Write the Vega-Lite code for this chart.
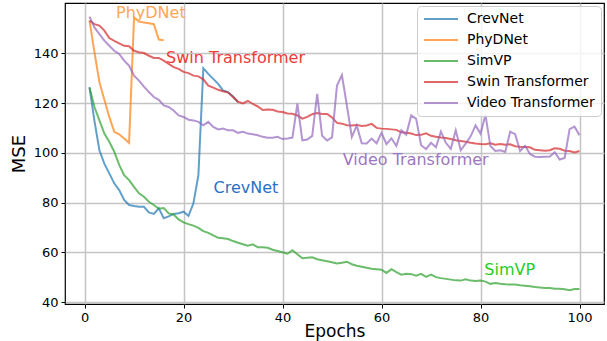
{
"$schema":"https://vega.github.io/schema/vega-lite/v6.json",
"width":539,"height":301,
"autosize":{"type":"none"},
"padding":{"left":65,"top":3,"right":3,"bottom":37},
"config":{"font":"DejaVu Sans","view":{"stroke":"#000000","strokeWidth":1.2}},
"datasets":{
"curves":[
{"m":"CrevNet","e":1,"v":126.4},{"m":"CrevNet","e":2,"v":112.8},{"m":"CrevNet","e":3,"v":101},{"m":"CrevNet","e":4,"v":95.6},{"m":"CrevNet","e":5,"v":91.7},{"m":"CrevNet","e":6,"v":87.7},{"m":"CrevNet","e":7,"v":85},{"m":"CrevNet","e":8,"v":81},{"m":"CrevNet","e":9,"v":79},{"m":"CrevNet","e":10,"v":78.6},{"m":"CrevNet","e":11,"v":78.3},{"m":"CrevNet","e":12,"v":78.3},{"m":"CrevNet","e":13,"v":76},{"m":"CrevNet","e":14,"v":75.4},{"m":"CrevNet","e":15,"v":77.7},{"m":"CrevNet","e":16,"v":73.7},{"m":"CrevNet","e":17,"v":74.4},{"m":"CrevNet","e":18,"v":75.4},{"m":"CrevNet","e":19,"v":75.7},{"m":"CrevNet","e":20,"v":76.3},{"m":"CrevNet","e":21,"v":74.6},{"m":"CrevNet","e":22,"v":79.7},{"m":"CrevNet","e":23,"v":91},{"m":"CrevNet","e":24,"v":134},{"m":"CrevNet","e":25,"v":131.7},{"m":"CrevNet","e":26,"v":129.7},{"m":"CrevNet","e":27,"v":127.7},{"m":"CrevNet","e":28,"v":125},{"m":"CrevNet","e":29,"v":124.4},{"m":"CrevNet","e":30,"v":122.6},{"m":"CrevNet","e":31,"v":120.4},
{"m":"PhyDNet","e":1,"v":153.1},{"m":"PhyDNet","e":2,"v":140.4},{"m":"PhyDNet","e":3,"v":128.4},{"m":"PhyDNet","e":4,"v":121.3},{"m":"PhyDNet","e":5,"v":114.4},{"m":"PhyDNet","e":6,"v":108.4},{"m":"PhyDNet","e":7,"v":107.4},{"m":"PhyDNet","e":8,"v":105.7},{"m":"PhyDNet","e":9,"v":104},{"m":"PhyDNet","e":10,"v":154.4},{"m":"PhyDNet","e":11,"v":152.7},{"m":"PhyDNet","e":12,"v":152.4},{"m":"PhyDNet","e":13,"v":152.1},{"m":"PhyDNet","e":14,"v":151.7},{"m":"PhyDNet","e":15,"v":145.5},{"m":"PhyDNet","e":16,"v":145.2},
{"m":"SimVP","e":1,"v":126.1},{"m":"SimVP","e":2,"v":118.4},{"m":"SimVP","e":3,"v":113},{"m":"SimVP","e":4,"v":107.7},{"m":"SimVP","e":5,"v":104.4},{"m":"SimVP","e":6,"v":100.4},{"m":"SimVP","e":7,"v":95.1},{"m":"SimVP","e":8,"v":91},{"m":"SimVP","e":9,"v":89},{"m":"SimVP","e":10,"v":86.3},{"m":"SimVP","e":11,"v":83.7},{"m":"SimVP","e":12,"v":82.3},{"m":"SimVP","e":13,"v":80.3},{"m":"SimVP","e":14,"v":79},{"m":"SimVP","e":15,"v":77.5},{"m":"SimVP","e":16,"v":77.8},{"m":"SimVP","e":17,"v":75.6},{"m":"SimVP","e":18,"v":75.2},{"m":"SimVP","e":19,"v":73.2},{"m":"SimVP","e":20,"v":72},{"m":"SimVP","e":21,"v":71.3},{"m":"SimVP","e":22,"v":70.7},{"m":"SimVP","e":23,"v":69.8},{"m":"SimVP","e":24,"v":68.5},{"m":"SimVP","e":25,"v":67.8},{"m":"SimVP","e":26,"v":66.8},{"m":"SimVP","e":27,"v":65.8},{"m":"SimVP","e":28,"v":65.6},{"m":"SimVP","e":29,"v":65.3},{"m":"SimVP","e":30,"v":64.5},{"m":"SimVP","e":31,"v":63.8},{"m":"SimVP","e":32,"v":63.2},{"m":"SimVP","e":33,"v":62.6},{"m":"SimVP","e":34,"v":63.2},{"m":"SimVP","e":35,"v":62},{"m":"SimVP","e":36,"v":62},{"m":"SimVP","e":37,"v":61.8},{"m":"SimVP","e":38,"v":61},{"m":"SimVP","e":39,"v":60.5},{"m":"SimVP","e":40,"v":60},{"m":"SimVP","e":41,"v":59.4},{"m":"SimVP","e":42,"v":60.8},{"m":"SimVP","e":43,"v":59.2},{"m":"SimVP","e":44,"v":57.6},{"m":"SimVP","e":45,"v":57.8},{"m":"SimVP","e":46,"v":58},{"m":"SimVP","e":47,"v":57.2},{"m":"SimVP","e":48,"v":56.8},{"m":"SimVP","e":49,"v":56.4},{"m":"SimVP","e":50,"v":56},{"m":"SimVP","e":51,"v":55.5},{"m":"SimVP","e":52,"v":55.8},{"m":"SimVP","e":53,"v":56.2},{"m":"SimVP","e":54,"v":55.2},{"m":"SimVP","e":55,"v":54.6},{"m":"SimVP","e":56,"v":54.2},{"m":"SimVP","e":57,"v":53.8},{"m":"SimVP","e":58,"v":53.4},{"m":"SimVP","e":59,"v":53.2},{"m":"SimVP","e":60,"v":53},{"m":"SimVP","e":61,"v":51.7},{"m":"SimVP","e":62,"v":53.2},{"m":"SimVP","e":63,"v":52},{"m":"SimVP","e":64,"v":51},{"m":"SimVP","e":65,"v":51.4},{"m":"SimVP","e":66,"v":51.2},{"m":"SimVP","e":67,"v":50.6},{"m":"SimVP","e":68,"v":51.3},{"m":"SimVP","e":69,"v":50.1},{"m":"SimVP","e":70,"v":51},{"m":"SimVP","e":71,"v":50},{"m":"SimVP","e":72,"v":49.6},{"m":"SimVP","e":73,"v":49.3},{"m":"SimVP","e":74,"v":49},{"m":"SimVP","e":75,"v":48.7},{"m":"SimVP","e":76,"v":48.6},{"m":"SimVP","e":77,"v":49.1},{"m":"SimVP","e":78,"v":48.6},{"m":"SimVP","e":79,"v":48.4},{"m":"SimVP","e":80,"v":48.6},{"m":"SimVP","e":81,"v":48.2},{"m":"SimVP","e":82,"v":47.3},{"m":"SimVP","e":83,"v":47.6},{"m":"SimVP","e":84,"v":47.3},{"m":"SimVP","e":85,"v":47.1},{"m":"SimVP","e":86,"v":47},{"m":"SimVP","e":87,"v":47},{"m":"SimVP","e":88,"v":46.7},{"m":"SimVP","e":89,"v":46.5},{"m":"SimVP","e":90,"v":46.3},{"m":"SimVP","e":91,"v":46},{"m":"SimVP","e":92,"v":45.8},{"m":"SimVP","e":93,"v":45.6},{"m":"SimVP","e":94,"v":45.6},{"m":"SimVP","e":95,"v":45.3},{"m":"SimVP","e":96,"v":45.3},{"m":"SimVP","e":97,"v":45.1},{"m":"SimVP","e":98,"v":44.7},{"m":"SimVP","e":99,"v":45.2},{"m":"SimVP","e":100,"v":45.2},
{"m":"Swin Transformer","e":1,"v":153.1},{"m":"Swin Transformer","e":2,"v":151.7},{"m":"Swin Transformer","e":3,"v":151.1},{"m":"Swin Transformer","e":4,"v":149.1},{"m":"Swin Transformer","e":5,"v":146.1},{"m":"Swin Transformer","e":6,"v":145},{"m":"Swin Transformer","e":7,"v":144},{"m":"Swin Transformer","e":8,"v":143},{"m":"Swin Transformer","e":9,"v":142.8},{"m":"Swin Transformer","e":10,"v":141},{"m":"Swin Transformer","e":11,"v":140.4},{"m":"Swin Transformer","e":12,"v":140.1},{"m":"Swin Transformer","e":13,"v":139},{"m":"Swin Transformer","e":14,"v":138.1},{"m":"Swin Transformer","e":15,"v":138.1},{"m":"Swin Transformer","e":16,"v":137},{"m":"Swin Transformer","e":17,"v":135.7},{"m":"Swin Transformer","e":18,"v":134.4},{"m":"Swin Transformer","e":19,"v":133.7},{"m":"Swin Transformer","e":20,"v":132.5},{"m":"Swin Transformer","e":21,"v":132},{"m":"Swin Transformer","e":22,"v":131},{"m":"Swin Transformer","e":23,"v":130.7},{"m":"Swin Transformer","e":24,"v":129.5},{"m":"Swin Transformer","e":25,"v":127},{"m":"Swin Transformer","e":26,"v":126.2},{"m":"Swin Transformer","e":27,"v":125.3},{"m":"Swin Transformer","e":28,"v":124.7},{"m":"Swin Transformer","e":29,"v":124.2},{"m":"Swin Transformer","e":30,"v":122.4},{"m":"Swin Transformer","e":31,"v":120.5},{"m":"Swin Transformer","e":32,"v":119.8},{"m":"Swin Transformer","e":33,"v":120.8},{"m":"Swin Transformer","e":34,"v":119.6},{"m":"Swin Transformer","e":35,"v":118.6},{"m":"Swin Transformer","e":36,"v":117.2},{"m":"Swin Transformer","e":37,"v":117.4},{"m":"Swin Transformer","e":38,"v":117.3},{"m":"Swin Transformer","e":39,"v":116.6},{"m":"Swin Transformer","e":40,"v":116.4},{"m":"Swin Transformer","e":41,"v":115.8},{"m":"Swin Transformer","e":42,"v":115.7},{"m":"Swin Transformer","e":43,"v":115},{"m":"Swin Transformer","e":44,"v":113.7},{"m":"Swin Transformer","e":45,"v":114.4},{"m":"Swin Transformer","e":46,"v":115.5},{"m":"Swin Transformer","e":47,"v":116},{"m":"Swin Transformer","e":48,"v":115.6},{"m":"Swin Transformer","e":49,"v":115.6},{"m":"Swin Transformer","e":50,"v":114.2},{"m":"Swin Transformer","e":51,"v":112},{"m":"Swin Transformer","e":52,"v":111.7},{"m":"Swin Transformer","e":53,"v":111.1},{"m":"Swin Transformer","e":54,"v":111},{"m":"Swin Transformer","e":55,"v":111.2},{"m":"Swin Transformer","e":56,"v":110.8},{"m":"Swin Transformer","e":57,"v":111},{"m":"Swin Transformer","e":58,"v":111.6},{"m":"Swin Transformer","e":59,"v":110},{"m":"Swin Transformer","e":60,"v":109.7},{"m":"Swin Transformer","e":61,"v":109.6},{"m":"Swin Transformer","e":62,"v":109.4},{"m":"Swin Transformer","e":63,"v":109.2},{"m":"Swin Transformer","e":64,"v":108.2},{"m":"Swin Transformer","e":65,"v":108},{"m":"Swin Transformer","e":66,"v":107.7},{"m":"Swin Transformer","e":67,"v":107.1},{"m":"Swin Transformer","e":68,"v":107.2},{"m":"Swin Transformer","e":69,"v":107.8},{"m":"Swin Transformer","e":70,"v":106.8},{"m":"Swin Transformer","e":71,"v":106.4},{"m":"Swin Transformer","e":72,"v":106.1},{"m":"Swin Transformer","e":73,"v":105.9},{"m":"Swin Transformer","e":74,"v":105.5},{"m":"Swin Transformer","e":75,"v":105},{"m":"Swin Transformer","e":76,"v":104.7},{"m":"Swin Transformer","e":77,"v":104.4},{"m":"Swin Transformer","e":78,"v":104},{"m":"Swin Transformer","e":79,"v":103.7},{"m":"Swin Transformer","e":80,"v":103.5},{"m":"Swin Transformer","e":81,"v":103.4},{"m":"Swin Transformer","e":82,"v":103.8},{"m":"Swin Transformer","e":83,"v":103.2},{"m":"Swin Transformer","e":84,"v":103.5},{"m":"Swin Transformer","e":85,"v":103.2},{"m":"Swin Transformer","e":86,"v":103.4},{"m":"Swin Transformer","e":87,"v":102.6},{"m":"Swin Transformer","e":88,"v":102.4},{"m":"Swin Transformer","e":89,"v":102.3},{"m":"Swin Transformer","e":90,"v":102.2},{"m":"Swin Transformer","e":91,"v":101.2},{"m":"Swin Transformer","e":92,"v":101},{"m":"Swin Transformer","e":93,"v":100.8},{"m":"Swin Transformer","e":94,"v":101},{"m":"Swin Transformer","e":95,"v":101.8},{"m":"Swin Transformer","e":96,"v":101.6},{"m":"Swin Transformer","e":97,"v":100.8},{"m":"Swin Transformer","e":98,"v":100.7},{"m":"Swin Transformer","e":99,"v":100.1},{"m":"Swin Transformer","e":100,"v":100.7},
{"m":"Video Transformer","e":1,"v":154.7},{"m":"Video Transformer","e":2,"v":150.4},{"m":"Video Transformer","e":3,"v":147.7},{"m":"Video Transformer","e":4,"v":145.1},{"m":"Video Transformer","e":5,"v":143},{"m":"Video Transformer","e":6,"v":141},{"m":"Video Transformer","e":7,"v":139.7},{"m":"Video Transformer","e":8,"v":137},{"m":"Video Transformer","e":9,"v":135},{"m":"Video Transformer","e":10,"v":131},{"m":"Video Transformer","e":11,"v":129},{"m":"Video Transformer","e":12,"v":126.6},{"m":"Video Transformer","e":13,"v":124.4},{"m":"Video Transformer","e":14,"v":122.4},{"m":"Video Transformer","e":15,"v":121.3},{"m":"Video Transformer","e":16,"v":119},{"m":"Video Transformer","e":17,"v":118.4},{"m":"Video Transformer","e":18,"v":117},{"m":"Video Transformer","e":19,"v":115},{"m":"Video Transformer","e":20,"v":114.4},{"m":"Video Transformer","e":21,"v":113.3},{"m":"Video Transformer","e":22,"v":113},{"m":"Video Transformer","e":23,"v":112.4},{"m":"Video Transformer","e":24,"v":111},{"m":"Video Transformer","e":25,"v":112.4},{"m":"Video Transformer","e":26,"v":110.4},{"m":"Video Transformer","e":27,"v":109.4},{"m":"Video Transformer","e":28,"v":109.7},{"m":"Video Transformer","e":29,"v":109},{"m":"Video Transformer","e":30,"v":109},{"m":"Video Transformer","e":31,"v":108},{"m":"Video Transformer","e":32,"v":108.4},{"m":"Video Transformer","e":33,"v":107.7},{"m":"Video Transformer","e":34,"v":107.4},{"m":"Video Transformer","e":35,"v":107},{"m":"Video Transformer","e":36,"v":106.4},{"m":"Video Transformer","e":37,"v":106},{"m":"Video Transformer","e":38,"v":106},{"m":"Video Transformer","e":39,"v":106.4},{"m":"Video Transformer","e":40,"v":105.5},{"m":"Video Transformer","e":41,"v":105.7},{"m":"Video Transformer","e":42,"v":106.1},{"m":"Video Transformer","e":43,"v":119.7},{"m":"Video Transformer","e":44,"v":105},{"m":"Video Transformer","e":45,"v":105.3},{"m":"Video Transformer","e":46,"v":106.8},{"m":"Video Transformer","e":47,"v":123.7},{"m":"Video Transformer","e":48,"v":106.8},{"m":"Video Transformer","e":49,"v":104.9},{"m":"Video Transformer","e":50,"v":106.2},{"m":"Video Transformer","e":51,"v":127},{"m":"Video Transformer","e":52,"v":131.2},{"m":"Video Transformer","e":53,"v":119},{"m":"Video Transformer","e":54,"v":106.4},{"m":"Video Transformer","e":55,"v":111},{"m":"Video Transformer","e":56,"v":103.8},{"m":"Video Transformer","e":57,"v":103.7},{"m":"Video Transformer","e":58,"v":105.7},{"m":"Video Transformer","e":59,"v":103.8},{"m":"Video Transformer","e":60,"v":108},{"m":"Video Transformer","e":61,"v":103.5},{"m":"Video Transformer","e":62,"v":105.8},{"m":"Video Transformer","e":63,"v":102.7},{"m":"Video Transformer","e":64,"v":109},{"m":"Video Transformer","e":65,"v":107.3},{"m":"Video Transformer","e":66,"v":115},{"m":"Video Transformer","e":67,"v":113.6},{"m":"Video Transformer","e":68,"v":103},{"m":"Video Transformer","e":69,"v":101.5},{"m":"Video Transformer","e":70,"v":104},{"m":"Video Transformer","e":71,"v":102.2},{"m":"Video Transformer","e":72,"v":108.5},{"m":"Video Transformer","e":73,"v":104},{"m":"Video Transformer","e":74,"v":101.6},{"m":"Video Transformer","e":75,"v":109},{"m":"Video Transformer","e":76,"v":101},{"m":"Video Transformer","e":77,"v":103.7},{"m":"Video Transformer","e":78,"v":106.6},{"m":"Video Transformer","e":79,"v":111},{"m":"Video Transformer","e":80,"v":107.7},{"m":"Video Transformer","e":81,"v":115.2},{"m":"Video Transformer","e":82,"v":102.7},{"m":"Video Transformer","e":83,"v":100.7},{"m":"Video Transformer","e":84,"v":101},{"m":"Video Transformer","e":85,"v":100.3},{"m":"Video Transformer","e":86,"v":108.5},{"m":"Video Transformer","e":87,"v":107.5},{"m":"Video Transformer","e":88,"v":100.7},{"m":"Video Transformer","e":89,"v":102.8},{"m":"Video Transformer","e":90,"v":99.5},{"m":"Video Transformer","e":91,"v":98.4},{"m":"Video Transformer","e":92,"v":98.3},{"m":"Video Transformer","e":93,"v":98.4},{"m":"Video Transformer","e":94,"v":98.5},{"m":"Video Transformer","e":95,"v":100.2},{"m":"Video Transformer","e":96,"v":97.3},{"m":"Video Transformer","e":97,"v":97.9},{"m":"Video Transformer","e":98,"v":109.5},{"m":"Video Transformer","e":99,"v":110.5},{"m":"Video Transformer","e":100,"v":107}
],
"notes":[
{"m":"PhyDNet","e":13.4,"v":156.3},
{"m":"Swin Transformer","e":30.5,"v":137.9},
{"m":"CrevNet","e":32.6,"v":85.8},
{"m":"Video Transformer","e":66.9,"v":97},
{"m":"SimVP","e":85.9,"v":52.9}
]
},
"layer":[
{
"data":{"name":"curves"},
"mark":{"type":"line","strokeWidth":2,"strokeOpacity":0.7,"clip":true},
"encoding":{
"x":{"field":"e","type":"quantitative","scale":{"domain":[-3.95,104.95],"nice":false,"zero":false},
"axis":{"values":[0,20,40,60,80,100],"title":"Epochs","grid":true,"gridColor":"#c4c4c4","gridWidth":1.5,"domain":false,"tickColor":"#000000","tickSize":4,"tickWidth":1,"labelFont":"DejaVu Sans","labelFontSize":13,"labelColor":"#000000","labelPadding":3,"titleFont":"DejaVu Sans","titleFontSize":17,"titleFontWeight":"normal","titleColor":"#000000","titlePadding":-1}},
"y":{"field":"v","type":"quantitative","scale":{"domain":[39.2,160.2],"nice":false,"zero":false},
"axis":{"values":[40,60,80,100,120,140],"title":"MSE","grid":true,"gridColor":"#c4c4c4","gridWidth":1.5,"domain":false,"tickColor":"#000000","tickSize":4,"tickWidth":1,"labelFont":"DejaVu Sans","labelFontSize":13,"labelColor":"#000000","labelPadding":3,"titleFont":"DejaVu Sans","titleFontSize":18,"titleFontWeight":"normal","titleColor":"#000000","titlePadding":5}},
"color":{"field":"m","type":"nominal","scale":{"domain":["CrevNet","PhyDNet","SimVP","Swin Transformer","Video Transformer"],"range":["#1f77b4","#ff7f0e","#2ca02c","#d62728","#9467bd"]},
"legend":{"title":null,"orient":"top-right","offset":3,"padding":6,"symbolType":"stroke","symbolSize":1156,"symbolStrokeWidth":2,"symbolOpacity":0.7,"clipHeight":14,"rowPadding":7,"labelFont":"DejaVu Sans","labelFontSize":14,"labelColor":"#000000","labelOffset":8,"strokeColor":"#cccccc","fillColor":"rgba(255,255,255,0.8)","cornerRadius":4}}
}
},
{
"data":{"name":"notes"},
"mark":{"type":"text","font":"DejaVu Sans","fontSize":16,"align":"center","baseline":"middle"},
"encoding":{
"x":{"field":"e","type":"quantitative"},
"y":{"field":"v","type":"quantitative"},
"text":{"field":"m","type":"nominal"},
"color":{"field":"m","type":"nominal","scale":{"domain":["CrevNet","PhyDNet","SimVP","Swin Transformer","Video Transformer"],"range":["#2a72c4","#ffa658","#28cc28","#ee3b3b","#9c77bf"]},"legend":null}
}
}
],
"resolve":{"scale":{"color":"independent"},"legend":{"color":"independent"}}
}
